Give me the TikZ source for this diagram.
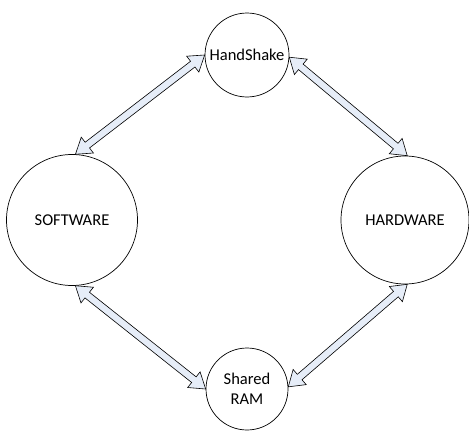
\documentclass[tikz,border=0pt]{standalone}
\usepackage{fontspec}
\setmainfont{Carlito}
\usetikzlibrary{calc}
\definecolor{arrowfill}{RGB}{230,237,248}
\tikzstyle{hub} = [circle, draw=black, line width=0.7pt, inner sep=0pt, minimum size=84pt, align=center, font=\fontsize{16.5}{19.5}\selectfont]
\tikzstyle{unit} = [hub, minimum size=131pt]
\tikzstyle{link} = [draw=black, line width=0.6pt, fill=arrowfill, line join=miter,
  to path={-- ($(\tikztostart)!15pt!(\tikztotarget)!10pt!90:(\tikztotarget)$)
           -- ($(\tikztostart)!15pt!(\tikztotarget)!3.6pt!90:(\tikztotarget)$)
           -- ($(\tikztotarget)!15pt!(\tikztostart)!3.6pt!-90:(\tikztostart)$)
           -- ($(\tikztotarget)!15pt!(\tikztostart)!10pt!-90:(\tikztostart)$)
           -- (\tikztotarget)
           -- ($(\tikztotarget)!15pt!(\tikztostart)!10pt!90:(\tikztostart)$)
           -- ($(\tikztotarget)!15pt!(\tikztostart)!3.6pt!90:(\tikztostart)$)
           -- ($(\tikztostart)!15pt!(\tikztotarget)!3.6pt!-90:(\tikztotarget)$)
           -- ($(\tikztostart)!15pt!(\tikztotarget)!10pt!-90:(\tikztotarget)$)
           -- cycle}]

\begin{document}
\begin{tikzpicture}[x=1pt, y=-1pt, node distance=165pt]
        \useasboundingbox (0,0) rectangle (469,431);
        % Nodes
        \node (hs) [hub] at (247,55) {HandShake};
        \node (sw) [unit, below of=hs, xshift=-175pt] {SOFTWARE};
        \node (hw) [unit, below of=hs, xshift=158pt, minimum size=128pt] {HARDWARE};
        \node (ram) [hub, below of=hs, yshift=-169pt, minimum size=82pt] {Shared\\RAM};

        % Arrows
        \draw [link] (sw.87) to (hs.west);
        \draw [link] (hs.-3) to (hw.88);
        \draw [link] (hw.-88) to (ram.3);
        \draw [link] (sw.-87) to (ram.west);
    \end{tikzpicture}
\end{document}
